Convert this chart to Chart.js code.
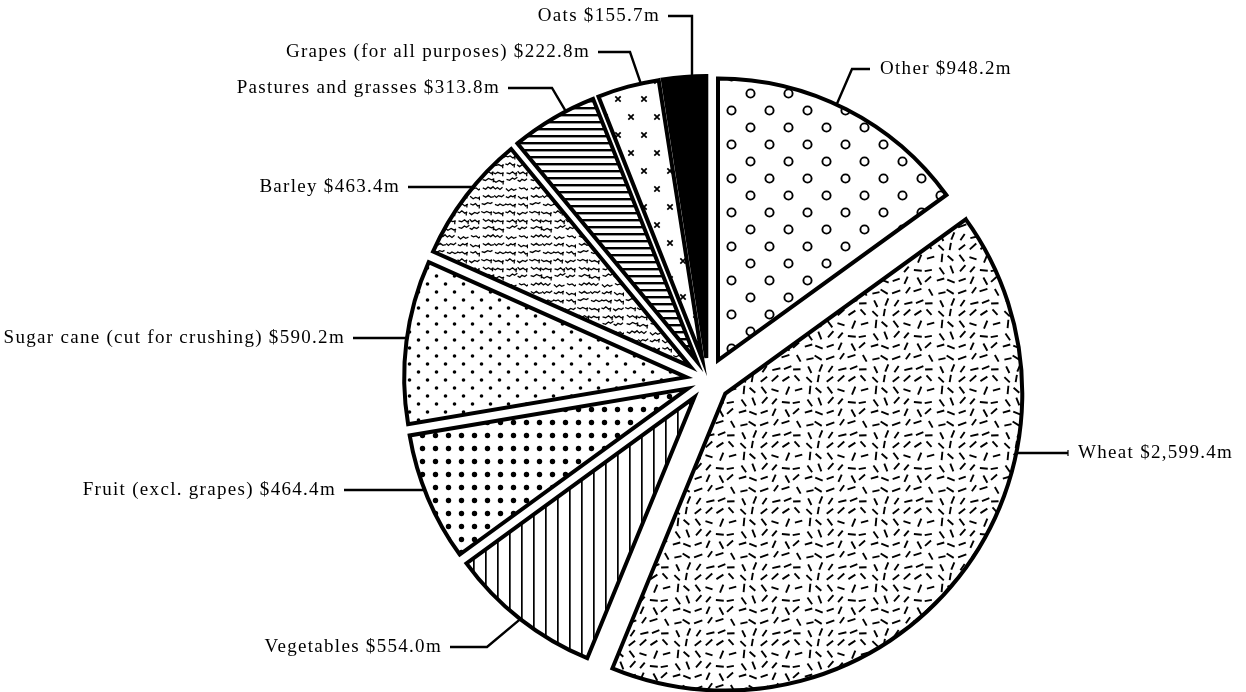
<!DOCTYPE html>
<html>
<head>
<meta charset="utf-8">
<script src="https://cdn.jsdelivr.net/npm/chart.js@4.4.0/dist/chart.umd.min.js"></script>
<style>
  html, body { margin: 0; padding: 0; background: #fff; }
</style>
</head>
<body>
<canvas id="pieChart" width="1246" height="692"></canvas>
<script>
// Gross value of crops, $ million (clockwise from 12 o'clock)
const crops = ['Other', 'Wheat', 'Vegetables', 'Fruit (excl. grapes)', 'Sugar cane (cut for crushing)',
               'Barley', 'Pastures and grasses', 'Grapes (for all purposes)', 'Oats'];
const values = [948.2, 2599.4, 554.0, 464.4, 590.2, 463.4, 313.8, 222.8, 155.7];
const valueLabels = ['$948.2m', '$2,599.4m', '$554.0m', '$464.4m', '$590.2m', '$463.4m', '$313.8m', '$222.8m', '$155.7m'];

const PIE_RADIUS = 282;
const WHEAT_RADIUS = 297;
const EXPLODE = 22;
const FONT = '19px "Liberation Serif", "Times New Roman", serif';

const canvas = document.getElementById('pieChart');
const ctx = canvas.getContext('2d');

// small deterministic generator, only used for the texture tiles
let seed = 12345;
function rnd() {
    seed = (seed * 16807) % 2147483647;
    return seed / 2147483647;
}

function tile(w, h, draw) {
    const c = document.createElement('canvas');
    c.width = w;
    c.height = h;
    const g = c.getContext('2d');
    g.fillStyle = '#fff';
    g.fillRect(0, 0, w, h);
    g.fillStyle = '#000';
    g.strokeStyle = '#000';
    draw(g, w, h);
    return ctx.createPattern(c, 'repeat');
}

// Other: open circles
const circles = tile(38, 34, g => {
    g.lineWidth = 1.9;
    [[9.5, 8.5], [28.5, 25.5]].forEach(([x, y]) => {
        g.beginPath();
        g.arc(x, y, 4.1, 0, Math.PI * 2);
        g.stroke();
    });
});

// Wheat: scattered short dashes
const dashes = tile(66, 66, g => {
    g.lineWidth = 1.9;
    g.lineCap = 'butt';
    const n = 6, cell = 66 / n;
    for (let i = 0; i < n; i++) {
        for (let j = 0; j < n; j++) {
            const cx = i * cell + cell / 2 + (rnd() - 0.5) * 3;
            const cy = j * cell + cell / 2 + (rnd() - 0.5) * 3;
            const a = rnd() * Math.PI;
            const l = 3.6 + rnd() * 0.8;
            g.beginPath();
            g.moveTo(cx - Math.cos(a) * l, cy - Math.sin(a) * l);
            g.lineTo(cx + Math.cos(a) * l, cy + Math.sin(a) * l);
            g.stroke();
        }
    }
});

// Vegetables: vertical lines
const vLines = tile(12, 12, g => {
    g.fillRect(5, 0, 1.7, 12);
});

// Fruit: large dots
const bigDots = tile(13, 13, g => {
    g.beginPath();
    g.arc(6.5, 6.5, 2.7, 0, Math.PI * 2);
    g.fill();
});

// Sugar cane: small dots
const smallDots = tile(18, 16, g => {
    [[4.5, 4], [13.5, 12]].forEach(([x, y]) => {
        g.beginPath();
        g.arc(x, y, 1.8, 0, Math.PI * 2);
        g.fill();
    });
});

// Barley: squiggles
const squiggles = tile(48, 48, g => {
    g.lineWidth = 1.3;
    for (let i = 0; i < 4; i++) {
        for (let j = 0; j < 6; j++) {
            let x = i * 12 + 1 + rnd() * 2;
            let y = j * 8 + 3 + rnd() * 2;
            g.beginPath();
            g.moveTo(x, y);
            for (let k = 0; k < 4; k++) {
                x += 2 + rnd() * 1.2;
                y += (k % 2 ? -1 : 1) * (0.8 + rnd() * 1.6);
                g.lineTo(x, y);
            }
            g.stroke();
            if (rnd() > 0.45) {
                g.beginPath();
                g.moveTo(x - 1, y);
                g.lineTo(x - 1, y + 3.5);
                g.stroke();
            }
        }
    }
});

// Pastures: horizontal lines
const hLines = tile(7, 7, g => {
    g.fillRect(0, 2, 7, 2.4);
});

// Grapes: small crosses
const crosses = tile(26, 36, g => {
    g.lineWidth = 1.7;
    [[7, 9], [20, 27]].forEach(([x, y]) => {
        g.beginPath();
        g.moveTo(x - 2.7, y - 2.7);
        g.lineTo(x + 2.7, y + 2.7);
        g.moveTo(x + 2.7, y - 2.7);
        g.lineTo(x - 2.7, y + 2.7);
        g.stroke();
    });
});

const fills = [circles, dashes, vLines, bigDots, smallDots, squiggles, hLines, crosses, '#000'];

// Push each slice out along its middle angle; wheat is drawn a little larger
const explode = {
    id: 'explode',
    afterDatasetUpdate(chart) {
        chart.getDatasetMeta(0).data.forEach((arc, i) => {
            const mid = (arc.startAngle + arc.endAngle) / 2;
            arc.x += Math.cos(mid) * EXPLODE;
            arc.y += Math.sin(mid) * EXPLODE;
            if (i === 1) arc.outerRadius = WHEAT_RADIUS;
        });
    }
};

// Label placement (text anchor, optional elbow, where the leader meets the slice)
const callouts = [
    { index: 0, align: 'left',  x: 880,  y: 69,  elbow: [852, 69], f: 0.46 },
    { index: 1, align: 'left',  x: 1078, y: 453, tick: true },
    { index: 2, align: 'right', x: 442,  y: 647, elbow: [487, 647], f: 0.5 },
    { index: 3, align: 'right', x: 336,  y: 490 },
    { index: 4, align: 'right', x: 345,  y: 338 },
    { index: 5, align: 'right', x: 400,  y: 187 },
    { index: 6, align: 'right', x: 500,  y: 88,  elbow: [552, 88], f: 0.66 },
    { index: 7, align: 'right', x: 590,  y: 52,  elbow: [630, 52], f: 0.71 },
    { index: 8, align: 'right', x: 660,  y: 16,  elbow: [692, 16], down: true }
];

const labelPlugin = {
    id: 'callouts',
    afterDraw(chart) {
        const c = chart.ctx;
        const arcs = chart.getDatasetMeta(0).data;
        c.save();
        c.font = FONT;
        c.letterSpacing = '1.3px';
        c.textBaseline = 'middle';
        c.fillStyle = '#000';
        c.strokeStyle = '#000';
        c.lineWidth = 2.4;
        callouts.forEach(o => {
            const arc = arcs[o.index];
            const r = arc.outerRadius;
            c.textAlign = o.align;
            c.fillText(crops[o.index] + ' ' + valueLabels[o.index], o.x, o.y);

            const sx = o.align === 'right' ? o.x + 8 : o.x - 10;
            let px, py;
            if (o.down) {
                px = o.elbow[0];
                py = arc.y - Math.sqrt(r * r - (px - arc.x) ** 2);
            } else if (o.f !== undefined) {
                const a = arc.startAngle + o.f * (arc.endAngle - arc.startAngle);
                px = arc.x + Math.cos(a) * r;
                py = arc.y + Math.sin(a) * r;
            } else {
                const dx = Math.sqrt(r * r - (o.y - arc.y) ** 2);
                px = o.align === 'right' ? arc.x - dx : arc.x + dx;
                py = o.y;
            }
            c.beginPath();
            c.moveTo(sx, o.y);
            if (o.elbow) c.lineTo(o.elbow[0], o.elbow[1]);
            c.lineTo(px, py);
            c.stroke();
            if (o.tick) {
                c.lineWidth = 1.2;
                c.beginPath();
                c.moveTo(sx, o.y - 3);
                c.lineTo(sx, o.y + 3);
                c.stroke();
                c.lineWidth = 2.4;
            }
        });
        c.restore();
    }
};

new Chart(ctx, {
    type: 'pie',
    data: {
        labels: crops,
        datasets: [{
            data: values,
            backgroundColor: fills,
            borderColor: '#000',
            borderWidth: 4,
            borderJoinStyle: 'miter',
            radius: PIE_RADIUS
        }]
    },
    options: {
        responsive: false,
        animation: false,
        events: [],
        layout: { padding: { left: 170, right: 0, top: 68, bottom: 0 } },
        plugins: {
            legend: { display: false },
            tooltip: { enabled: false }
        }
    },
    plugins: [explode, labelPlugin]
});
</script>
</body>
</html>
